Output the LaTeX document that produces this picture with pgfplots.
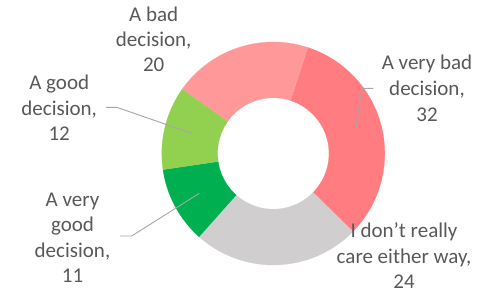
\documentclass[border=0pt]{standalone}
\usepackage{pgfplots}
\pgfplotsset{compat=1.18}
\usepackage{pgfplotstable}
\usepackage{fontspec}
\setmainfont{Carlito}
\definecolor{cVeryBad}{HTML}{FF7C80}
\definecolor{cBad}{HTML}{FF9999}
\definecolor{cGood}{HTML}{92D050}
\definecolor{cVeryGood}{HTML}{00B050}
\definecolor{cNeutral}{HTML}{D0CECE}
\definecolor{txt}{HTML}{595959}
\definecolor{leader}{HTML}{A6A6A6}

\pgfplotstableread[col sep=comma]{
name,value
A very bad decision,32
I don't really care either way,24
A very good decision,11
A good decision,12
A bad decision,20
}\donutdata

% geometry (picture units = px)
\def\cx{273.3}
\def\cy{139.5}
\def\Ro{111.5}
\def\Ri{55.7}
\def\firstangle{18}

\newcommand\slice[3]{%
  \addplot[fill=#3, draw=#3, line width=0.2pt, samples at={0,1,...,81}, variable=\t]
  ({\cx + ifthenelse(\t<40.5,\Ro,\Ri)*cos(ifthenelse(\t<40.5, #1+(#2-#1)*\t/40, #2-(#2-#1)*(\t-41)/40))},
   {\cy + ifthenelse(\t<40.5,\Ro,\Ri)*sin(ifthenelse(\t<40.5, #1+(#2-#1)*\t/40, #2-(#2-#1)*(\t-41)/40))});
}

\begin{document}
\begin{tikzpicture}
\pgfplotstablegetelem{0}{value}\of\donutdata \let\vA\pgfplotsretval
\pgfplotstablegetelem{1}{value}\of\donutdata \let\vB\pgfplotsretval
\pgfplotstablegetelem{2}{value}\of\donutdata \let\vC\pgfplotsretval
\pgfplotstablegetelem{3}{value}\of\donutdata \let\vD\pgfplotsretval
\pgfplotstablegetelem{4}{value}\of\donutdata \let\vE\pgfplotsretval
\pgfmathsetmacro\tot{\vA+\vB+\vC+\vD+\vE}
\pgfmathsetmacro\aA{90-\firstangle}
\pgfmathsetmacro\aB{\aA-360*\vA/\tot}
\pgfmathsetmacro\aC{\aB-360*\vB/\tot}
\pgfmathsetmacro\aD{\aC-360*\vC/\tot}
\pgfmathsetmacro\aE{\aD-360*\vD/\tot}
\pgfmathsetmacro\aF{\aE-360*\vE/\tot}
\begin{axis}[
  at={(0,0)}, anchor=south west,
  width=478pt, height=293pt, scale only axis,
  xmin=0, xmax=478, ymin=0, ymax=293,
  hide axis, clip=false,
]
\slice{\aA}{\aB}{cVeryBad}
\slice{\aB}{\aC}{cNeutral}
\slice{\aC}{\aD}{cVeryGood}
\slice{\aD}{\aE}{cGood}
\slice{\aE}{\aF}{cBad}

% leader lines
\addplot[leader, line width=0.9pt] coordinates {(373.3,204.7) (361.7,204.7) (355,161.3)};
\addplot[leader, line width=0.9pt] coordinates {(106,185.7) (116.7,185.7) (191.7,159.7)};
\addplot[leader, line width=0.9pt] coordinates {(120,57) (131.7,57) (199.3,99.7)};

\tikzset{lbl/.style={anchor=base, inner sep=0pt, text=txt, font=\fontsize{21}{25}\selectfont}}
% A bad decision
\node[lbl] at (axis cs:153.7,271.3) {A bad};
\node[lbl] at (axis cs:153.7,246.5) {decision,};
\node[lbl] at (axis cs:153.7,221.7) {20};
% A very bad decision
\node[lbl] at (axis cs:427,223.7) {A very bad};
\node[lbl] at (axis cs:427,198) {decision,};
\node[lbl] at (axis cs:427,171.3) {32};
% A good decision
\node[lbl] at (axis cs:59.2,203.7) {A good};
\node[lbl] at (axis cs:59.2,178) {decision,};
\node[lbl] at (axis cs:59.2,153) {12};
% A very good decision
\node[lbl] at (axis cs:72.5,87) {A very};
\node[lbl] at (axis cs:72.5,61.3) {good};
\node[lbl] at (axis cs:72.5,35.7) {decision,};
\node[lbl] at (axis cs:72.5,10.3) {11};
% I don't really care either way
\node[lbl] at (axis cs:404,55.7) {I don’t really};
\node[lbl] at (axis cs:404,29.7) {care either way,};
\node[lbl] at (axis cs:404,4.7) {24};
\end{axis}
\pgfresetboundingbox
\useasboundingbox (0,0) rectangle (478pt,293pt);
\end{tikzpicture}
\end{document}
